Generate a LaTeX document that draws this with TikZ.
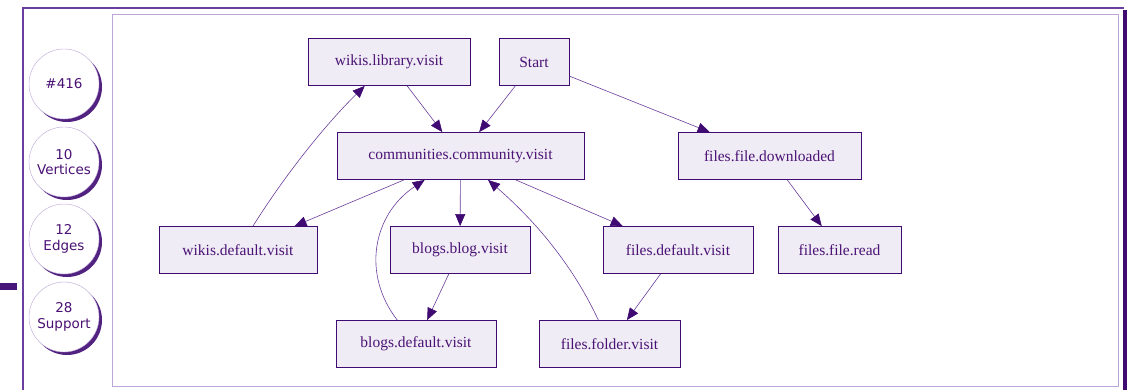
\documentclass[tikz,border=0pt]{standalone}
\usepackage{fontspec}
\setmainfont{Liberation Serif}
\newfontfamily\statfont{DejaVu Sans}
\usetikzlibrary{arrows.meta,shadows}

\definecolor{deeppurple}{HTML}{3F0A72}
\definecolor{linepurple}{HTML}{6A3C9C}
\definecolor{boxfill}{HTML}{F0ECF5}
\definecolor{framelight}{HTML}{BCA6D8}
\definecolor{framemid}{HTML}{6B3FA0}
\definecolor{textpurple}{HTML}{4A1275}

\begin{document}
\begin{tikzpicture}[x=1pt,y=-1pt,->,>={Triangle[length=12pt,width=10pt,color=deeppurple]},
                    semithick]
  \tikzstyle{act}=[rectangle,draw=deeppurple,fill=boxfill,text=textpurple,thick,
                   minimum height=47pt,font=\fontsize{15.5}{18}\selectfont]
  \tikzstyle{stat}=[circle,draw=framelight,fill=white,text=textpurple,thin,
                    minimum size=70pt,align=center,inner sep=0pt,
                    font=\statfont\fontsize{13.5}{15.5}\selectfont,
                    drop shadow={shadow xshift=3pt,shadow yshift=-3pt,
                                 fill=deeppurple,opacity=0.9}]
  \useasboundingbox (0,0) rectangle (1135,390);

  % frames
  \draw[-,framemid,line width=2pt] (23,391) -- (23,8) -- (1124,8);
  \draw[-,deeppurple,line width=4pt] (1125,10) -- (1125,391);
  \draw[-,framelight,thin] (112,14) rectangle (1118,386);
  \fill[deeppurple!80!framemid] (0,283) rectangle (17,290);

  % summary
  \node[stat] (Id)   at (64,84)  {\#416};
  \node[stat] (Vert) at (64,162) {10\\Vertices};
  \node[stat] (Edge) at (64,239) {12\\Edges};
  \node[stat] (Supp) at (64,317) {28\\Support};

  % activities
  \node[act,minimum width=162pt] (WLib)  at (389,62)    {wikis.library.visit};
  \node[act,minimum width=70pt]  (Start) at (534,62)    {Start};
  \node[act,minimum width=247pt] (Comm)  at (460.5,156) {communities.community.visit};
  \node[act,minimum width=183pt] (FDown) at (769.5,156) {files.file.downloaded};
  \node[act,minimum width=158pt] (WDef)  at (238,250)   {wikis.default.visit};
  \node[act,minimum width=140pt] (BBlog) at (460,250)   {blogs.blog.visit};
  \node[act,minimum width=150pt] (FDef)  at (678,250)   {files.default.visit};
  \node[act,minimum width=123pt] (FRead) at (839.5,250) {files.file.read};
  \node[act,minimum width=160pt] (BDef)  at (416,344)   {blogs.default.visit};
  \node[act,minimum width=141pt] (FFold) at (609.5,344) {files.folder.visit};

  \path[draw=linepurple]
        (WLib)  edge (Comm)
        (Start) edge (Comm)
        (Start) edge (FDown)
        (Comm)  edge (WDef)
        (Comm)  edge (BBlog)
        (Comm)  edge (FDef)
        (FDown) edge (FRead)
        (BBlog) edge (BDef)
        (FDef)  edge (FFold);
  \draw[linepurple] (WDef) .. controls (285,175) and (325,125) .. (WLib);
  \draw[linepurple] (BDef) .. controls (362,275) and (372,215) .. (Comm);
  \draw[linepurple] (FFold) .. controls (575,270) and (540,225) .. (Comm);
\end{tikzpicture}
\end{document}
